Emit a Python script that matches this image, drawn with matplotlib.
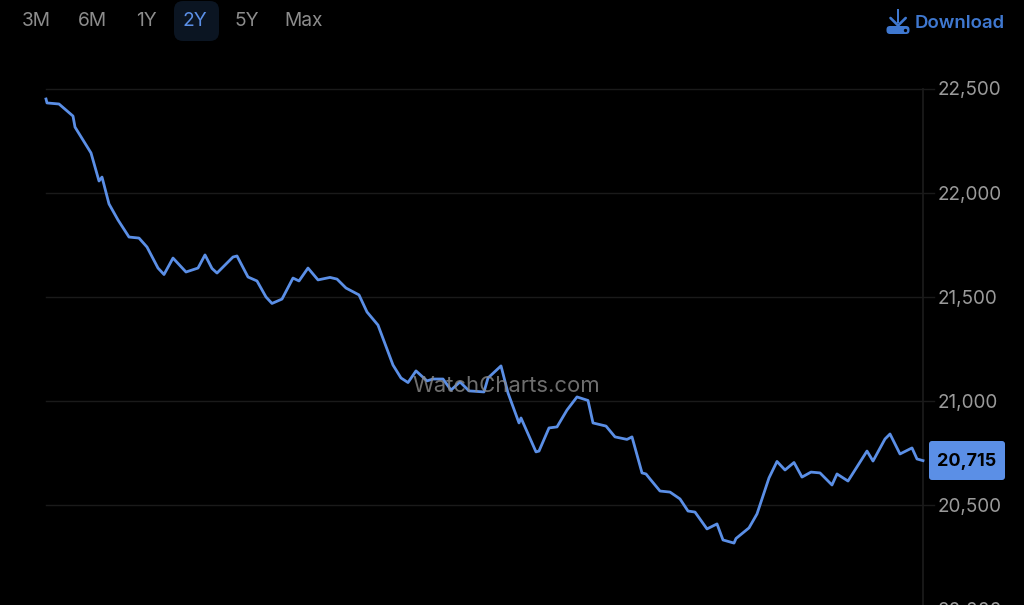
import matplotlib
matplotlib.use("Agg")
import matplotlib.pyplot as plt
from matplotlib.patches import FancyBboxPatch, Polygon
from matplotlib.transforms import blended_transform_factory

# Horizontal position along the two-year span, in chart units
periods = [0,1,13,27,29,45,53,56,63,72,83,93,101,112,118,127,140,152,159,166,171,187,191,202,211,220,226,236,247,253,262,272,284,291,300,313,321,332,347,355,362,370,381,387,397,405,414,423,438,442,455,462,473,475,490,493,503,511,521,531,542,547,560,569,581,586,596,600,604,614,624,634,642,649,661,671,677,688,690,703,711,723,731,739,748,756,765,774,786,791,802,821,827,839,844,854,866,871,877]
# Price
prices = [22452,22433,22428,22370,22317,22193,22058,22077,21948,21871,21789,21784,21741,21640,21609,21688,21621,21640,21703,21638,21616,21693,21698,21597,21578,21501,21470,21491,21592,21578,21640,21583,21595,21587,21544,21511,21429,21366,21174,21112,21090,21146,21098,21107,21107,21054,21093,21050,21045,21112,21170,21040,20896,20920,20757,20761,20872,20877,20958,21021,21004,20896,20881,20829,20817,20829,20656,20651,20627,20569,20564,20531,20473,20468,20387,20411,20334,20319,20341,20392,20459,20632,20711,20670,20706,20636,20660,20656,20598,20651,20617,20761,20713,20819,20843,20747,20776,20723,20715]
y_ticks = [22500,22000,21500,21000,20500,20000]
range_labels = ["3M","6M","1Y","2Y","5Y","Max"]
range_centers = [36,92,146,195,247,304]
current = 20715

FONT = ["Inter","DejaVu Sans"]
BLUE = "#5b8fe6"
DL = "#3f78d0"

fig = plt.figure(figsize=(10.24,6.05),dpi=100,facecolor="black")
ax = fig.add_axes([46/1024,0,877.5/1024,516/605],facecolor="black")
ax.set_xlim(0,877.5)
ax.set_ylim(20021.6,22500)
for s in ax.spines.values():
    s.set_visible(False)
ax.set_xticks([])
ax.set_yticks([])
tr = blended_transform_factory(ax.transAxes,ax.transData)
for t in y_ticks[:-1]:
    ax.plot([0,1.0125],[t,t],color="#1a1a1a",lw=1.0,clip_on=False,transform=tr,zorder=1)
ax.axvline(877.5,color="#1a1a1a",lw=1.3,clip_on=False,zorder=1)
for t in y_ticks:
    ax.text(1.0165,t-7,f"{t:,}",transform=tr,color="#9a9a9a",fontsize=13.6,family=FONT,
            ha="left",va="center",clip_on=False)
ax.plot(periods,prices,color=BLUE,lw=2.0,solid_joinstyle="round",zorder=3,clip_on=False)
ax.text(0.5245,0.4235,"WatchCharts.com",transform=ax.transAxes,color="#8a8a8a",alpha=0.8,
        fontsize=15.9,family=FONT,ha="center",va="center",zorder=4)

ov = fig.add_axes([0,0,1,1],facecolor="none")
ov.set_xlim(0,1024); ov.set_ylim(605,0); ov.axis("off")
ov.add_patch(FancyBboxPatch((180,7),33,28,boxstyle="round,pad=6,rounding_size=9",
                            linewidth=0,facecolor="#0b1522"))
for lab,c in zip(range_labels,range_centers):
    ov.text(c,21.5,lab,color=BLUE if lab=="2Y" else "#8c8c8c",fontsize=13.8,family=FONT,
            ha="center",va="center")
ov.text(1005,23,"Download",color=DL,fontsize=13.4,family=FONT,weight="semibold",ha="right",va="center")
# download icon
ov.add_patch(Polygon([[896.8,9],[899.4,9],[899.4,23],[896.8,23]],facecolor=DL,lw=0))
ov.plot([890.5,898.1,905.7],[18,25.5,18],color=DL,lw=1.9,solid_capstyle="round")
ov.add_patch(FancyBboxPatch((890,29.5),16,1,boxstyle="round,pad=3.5,rounding_size=3.5",facecolor=DL,lw=0))
ov.plot([905],[30],marker="o",ms=2.4,color="black",mew=0)
# current price badge
ov.add_patch(FancyBboxPatch((931,443),72,35,boxstyle="round,pad=2,rounding_size=3",facecolor=BLUE,lw=0))
ov.text(967,461,f"{current:,}",color="black",fontsize=13.0,family=FONT,weight="bold",ha="center",va="center")
fig.savefig("out.png",dpi=100,facecolor="black")
